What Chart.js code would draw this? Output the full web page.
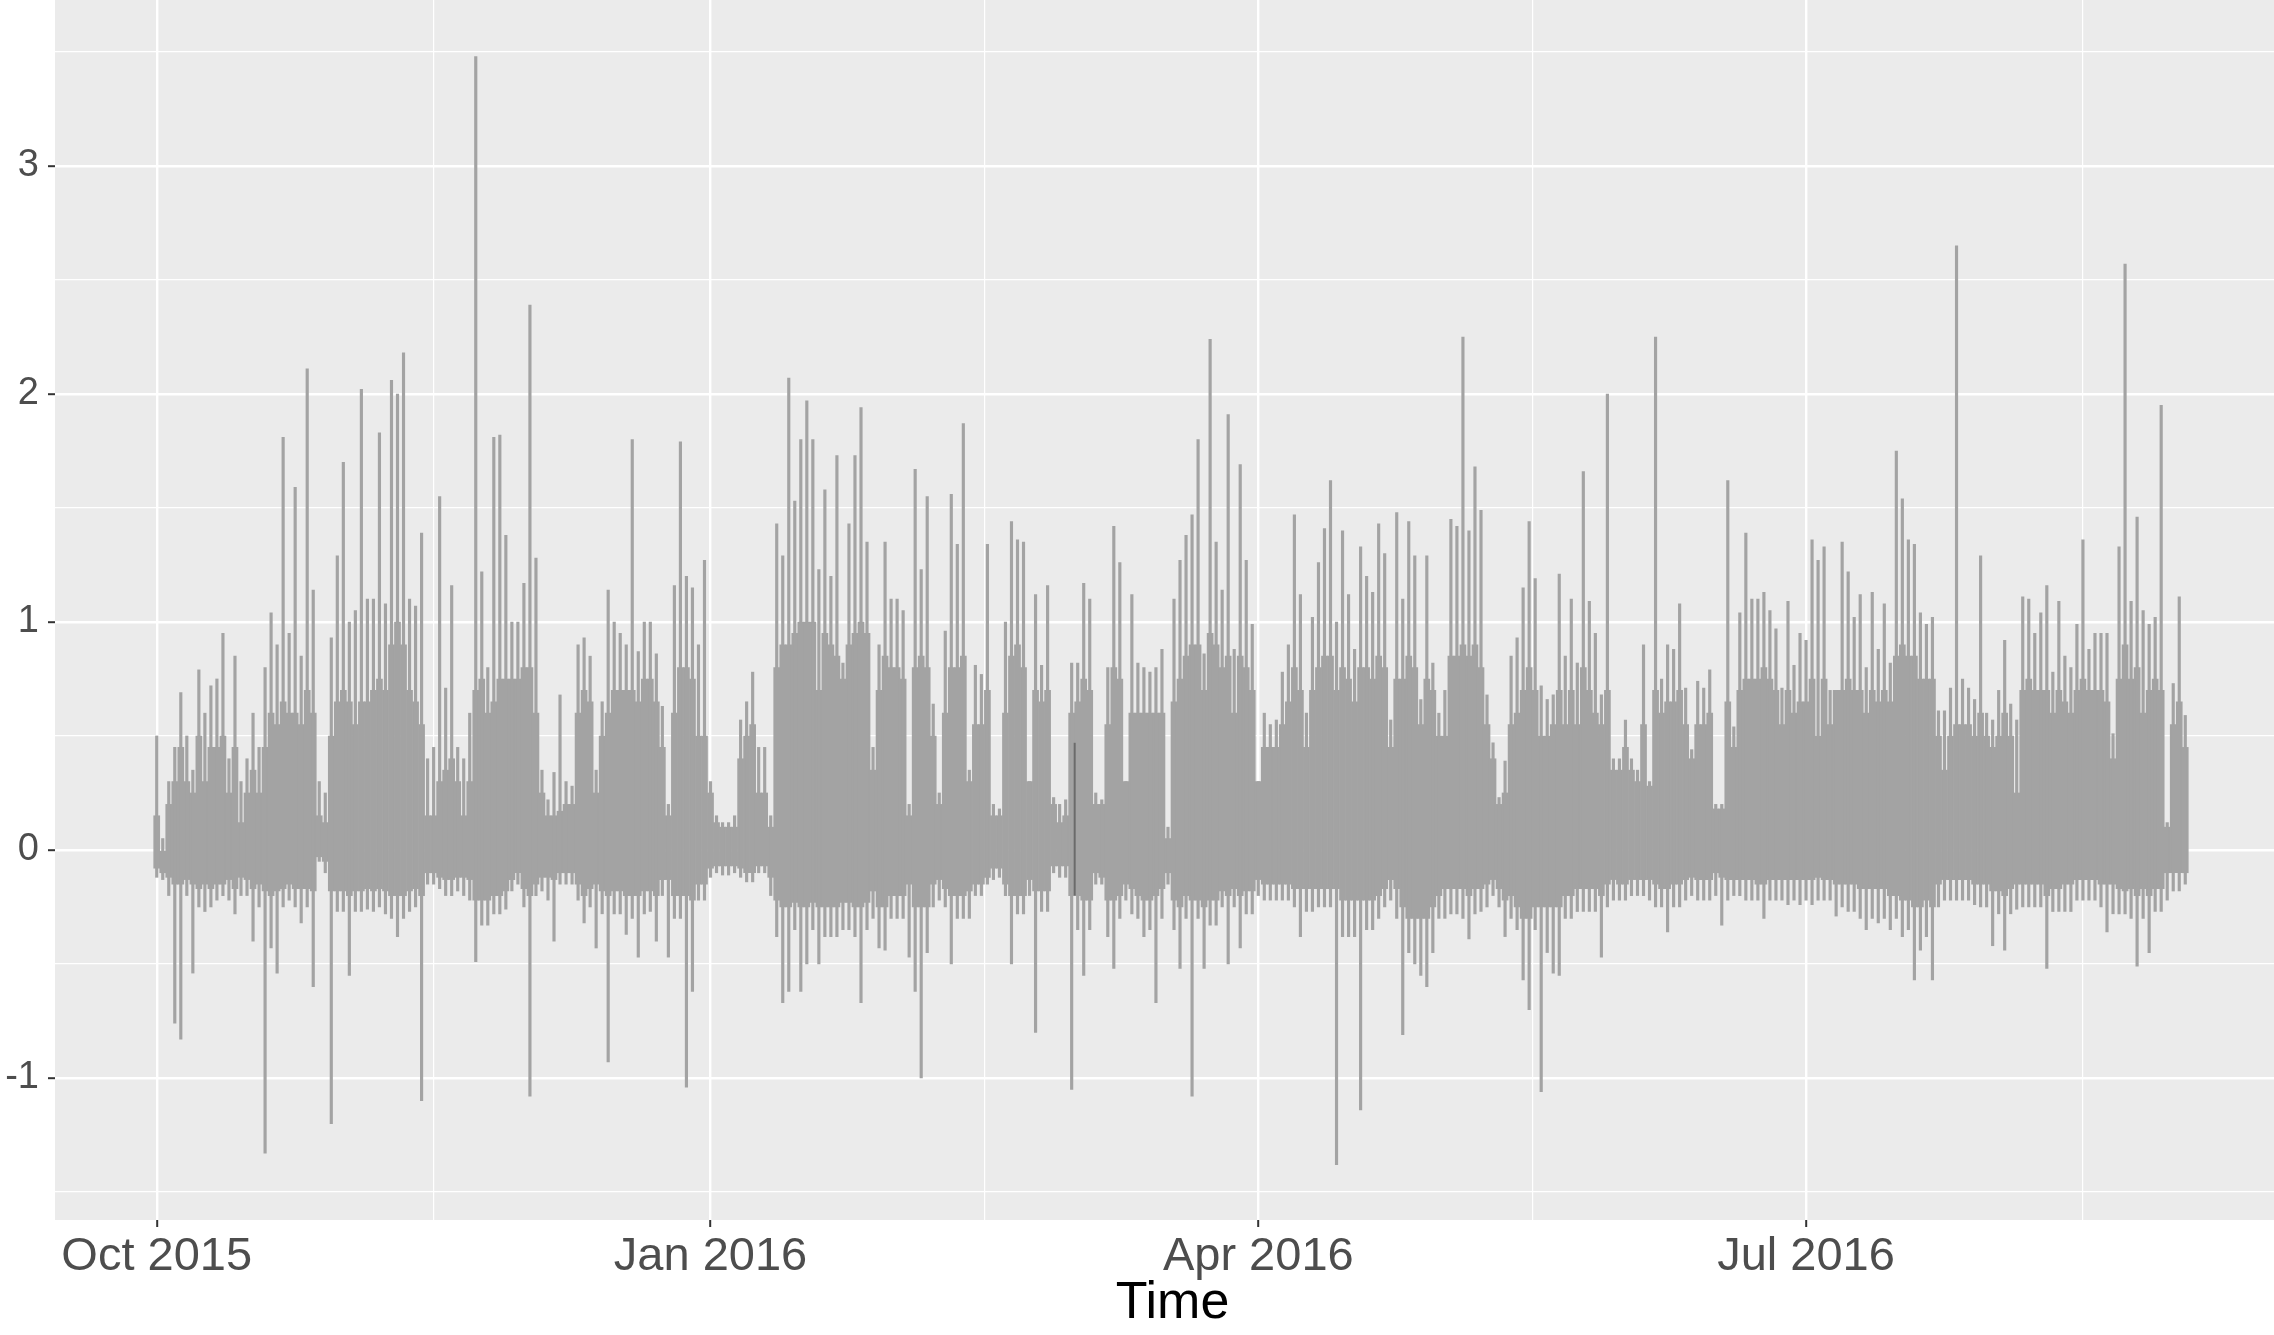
<!DOCTYPE html>
<html>
<head>
<meta charset="utf-8">
<script src="https://cdn.jsdelivr.net/npm/chart.js@4.4.1/dist/chart.umd.min.js"></script>
<style>
  html, body { margin: 0; padding: 0; background: #ffffff; overflow: hidden; }
  canvas { display: block; }
</style>
</head>
<body>
<canvas id="myChart" width="2292" height="1335"></canvas>
<script>
// one entry per day, day 0 = 1 Oct 2015
const dayMax = [
  .50,.05,.30,.45,.69,.50,.35,.79,.60,.72,
  .75,.95,.40,.85,.30,.40,.60,.45,.80,1.04,
  .90,1.81,.95,1.59,.85,2.11,1.14,.30,.25,.93,
  1.29,1.70,1.00,1.05,2.02,1.10,1.10,1.83,1.08,2.06,
  2.00,2.18,1.10,1.07,1.39,.40,.45,1.55,.71,1.16,
  .45,.40,.60,3.48,1.22,.80,1.81,1.82,1.38,1.00,
  1.00,1.17,2.39,1.28,.35,.22,.34,.68,.30,.28,
  .90,.93,.85,.35,.65,1.14,1.00,.95,.90,1.80,
  .87,1.00,1.00,.86,.63,.20,1.16,1.79,1.20,1.15,
  .90,1.27,.30,.15,.12,.12,.15,.57,.65,.78,
  .45,.45,.15,1.43,1.29,2.07,1.53,1.80,1.97,1.80,
  1.23,1.58,1.20,1.73,.82,1.43,1.73,1.94,1.35,.45,
  .90,1.35,1.10,1.10,1.05,.20,1.67,1.23,1.55,.64,
  .25,.96,1.56,1.34,1.87,.35,.81,.77,1.34,.20,
  .18,1.00,1.44,1.36,1.35,.30,1.12,.81,1.16,.23,
  .20,.22,.82,.82,1.17,1.10,.25,.22,.80,1.42,
  1.26,.30,1.12,.82,.80,.78,.80,.88,.10,1.10,
  1.27,1.38,1.47,1.80,.86,2.24,1.35,1.14,1.91,.88,
  1.69,1.27,.99,.30,.60,.55,.57,.78,.90,1.47,
  1.12,.60,1.02,1.26,1.41,1.62,1.00,1.40,1.12,.88,
  1.33,1.20,1.13,1.43,1.30,.57,1.48,1.10,1.44,1.29,
  .66,1.29,.82,.60,.70,1.45,1.42,2.25,1.40,1.68,
  1.49,.68,.47,.23,.39,.85,.93,1.15,1.44,1.19,
  .72,.66,.68,1.21,.85,1.10,.82,1.66,1.09,.95,
  .68,2.00,.40,.40,.57,.40,.35,.90,.30,2.25,
  .75,.90,.88,1.08,.71,.44,.74,.71,.79,.20,
  .20,1.62,.54,1.04,1.39,1.10,1.10,1.13,1.05,.97,
  .71,1.09,.81,.95,.92,1.36,1.27,1.33,.70,.70,
  1.35,1.22,1.02,1.12,.80,1.13,.88,1.08,.82,1.75,
  1.54,1.36,1.34,1.04,.99,1.02,.61,.61,.71,2.65,
  .75,.71,.66,1.29,.60,.57,.70,.92,.64,.57,
  1.11,1.10,.95,1.04,1.16,.78,1.09,.85,.80,.99,
  1.36,.88,.95,.95,.95,.51,1.33,2.57,1.09,1.46,
  1.05,.99,1.02,1.95,.12,.73,1.11,.59
];

// upper edge of the dense part of each day
const bandTop = [
  .15,.00,.20,.30,.45,.30,.25,.50,.30,.45,
  .45,.50,.25,.45,.12,.25,.35,.25,.45,.60,
  .55,.65,.60,.60,.55,.70,.60,.15,.12,.50,
  .65,.70,.65,.55,.65,.65,.70,.75,.70,.90,
  1.00,.90,.70,.65,.55,.15,.15,.30,.35,.40,
  .30,.15,.30,.70,.75,.60,.65,.75,.75,.75,
  .75,.80,.80,.60,.25,.15,.15,.17,.20,.20,
  .60,.70,.65,.25,.50,.60,.70,.70,.70,.70,
  .65,.75,.75,.65,.45,.15,.60,.80,.80,.75,
  .50,.50,.25,.12,.10,.10,.10,.40,.50,.55,
  .25,.25,.10,.80,.90,.90,.95,1.00,1.00,1.00,
  .70,.95,.90,.85,.75,.90,.95,1.00,.95,.35,
  .70,.85,.80,.80,.75,.15,.80,.85,.80,.50,
  .20,.60,.80,.80,.85,.30,.55,.55,.70,.15,
  .15,.60,.85,.90,.80,.30,.70,.65,.70,.20,
  .12,.15,.60,.65,.75,.70,.20,.20,.55,.80,
  .75,.30,.60,.60,.60,.60,.60,.60,.05,.65,
  .75,.85,.90,.90,.70,.95,.90,.80,.85,.60,
  .85,.80,.70,.30,.45,.45,.45,.55,.65,.80,
  .70,.45,.70,.80,.85,.85,.70,.80,.75,.65,
  .80,.80,.75,.85,.80,.45,.75,.75,.85,.80,
  .55,.75,.70,.50,.50,.85,.85,.90,.85,.90,
  .80,.55,.40,.20,.25,.55,.60,.70,.80,.70,
  .50,.50,.55,.70,.55,.70,.55,.80,.70,.60,
  .55,.70,.35,.35,.45,.35,.30,.55,.28,.70,
  .60,.65,.65,.70,.55,.40,.55,.55,.60,.18,
  .18,.65,.45,.70,.75,.75,.75,.80,.75,.70,
  .55,.70,.60,.65,.65,.75,.50,.75,.55,.70,
  .70,.75,.70,.70,.60,.70,.65,.70,.65,.85,
  .90,.85,.85,.75,.75,.75,.50,.35,.50,.55,
  .55,.55,.50,.60,.50,.45,.50,.60,.50,.25,
  .70,.75,.70,.70,.70,.60,.70,.65,.60,.70,
  .75,.70,.70,.70,.65,.40,.75,.90,.75,.80,
  .60,.70,.75,.70,.10,.55,.65,.45
];

// lower edge of the dense part of each day
const bandBottom = [
  -.08,-.10,-.12,-.15,-.15,-.13,-.15,-.17,-.15,-.17,
  -.15,-.15,-.13,-.17,-.12,-.13,-.17,-.15,-.18,-.20,
  -.18,-.17,-.15,-.17,-.17,-.17,-.18,-.03,-.05,-.18,
  -.18,-.18,-.20,-.18,-.18,-.17,-.18,-.17,-.18,-.20,
  -.20,-.20,-.18,-.17,-.20,-.10,-.10,-.12,-.13,-.13,
  -.12,-.12,-.13,-.22,-.22,-.22,-.20,-.20,-.18,-.13,
  -.10,-.17,-.20,-.15,-.12,-.12,-.13,-.10,-.10,-.10,
  -.15,-.20,-.17,-.15,-.18,-.20,-.18,-.18,-.20,-.20,
  -.20,-.18,-.18,-.20,-.13,-.13,-.20,-.20,-.20,-.22,
  -.15,-.15,-.08,-.07,-.07,-.07,-.07,-.08,-.10,-.10,
  -.07,-.07,-.12,-.22,-.25,-.25,-.23,-.25,-.25,-.23,
  -.25,-.25,-.25,-.25,-.23,-.23,-.25,-.25,-.23,-.18,
  -.25,-.25,-.20,-.20,-.20,-.15,-.25,-.25,-.25,-.15,
  -.13,-.17,-.20,-.20,-.20,-.18,-.15,-.15,-.12,-.08,
  -.08,-.15,-.20,-.20,-.20,-.13,-.18,-.18,-.18,-.07,
  -.07,-.07,-.20,-.20,-.22,-.22,-.10,-.12,-.22,-.22,
  -.20,-.15,-.17,-.20,-.22,-.22,-.20,-.17,-.10,-.22,
  -.25,-.20,-.22,-.22,-.25,-.22,-.22,-.18,-.20,-.17,
  -.20,-.18,-.18,-.13,-.15,-.15,-.15,-.15,-.15,-.17,
  -.17,-.17,-.17,-.17,-.17,-.17,-.17,-.22,-.22,-.22,
  -.22,-.22,-.22,-.20,-.17,-.13,-.17,-.25,-.30,-.30,
  -.30,-.30,-.25,-.20,-.17,-.17,-.17,-.17,-.20,-.17,
  -.17,-.15,-.13,-.17,-.22,-.20,-.25,-.30,-.30,-.25,
  -.25,-.25,-.25,-.25,-.20,-.20,-.17,-.17,-.17,-.17,
  -.20,-.15,-.13,-.15,-.15,-.13,-.13,-.13,-.13,-.15,
  -.17,-.17,-.15,-.15,-.13,-.12,-.13,-.13,-.13,-.10,
  -.12,-.13,-.13,-.13,-.13,-.13,-.15,-.15,-.13,-.13,
  -.13,-.13,-.13,-.13,-.13,-.13,-.12,-.13,-.13,-.15,
  -.15,-.15,-.15,-.17,-.17,-.17,-.17,-.17,-.20,-.20,
  -.22,-.22,-.25,-.25,-.22,-.25,-.15,-.13,-.13,-.13,
  -.13,-.13,-.15,-.15,-.15,-.18,-.18,-.20,-.17,-.15,
  -.15,-.15,-.15,-.15,-.20,-.17,-.17,-.15,-.15,-.13,
  -.13,-.13,-.13,-.15,-.15,-.15,-.17,-.18,-.17,-.20,
  -.17,-.20,-.17,-.17,-.10,-.10,-.10,-.10
];

const dayMin = [
  -.12,-.13,-.20,-.76,-.83,-.20,-.54,-.25,-.27,-.25,
  -.22,-.20,-.22,-.28,-.20,-.20,-.40,-.25,-1.33,-.43,
  -.54,-.25,-.22,-.25,-.32,-.25,-.60,-.05,-.10,-1.20,
  -.27,-.27,-.55,-.27,-.27,-.26,-.27,-.25,-.28,-.30,
  -.38,-.30,-.27,-.25,-1.10,-.15,-.15,-.17,-.20,-.20,
  -.18,-.20,-.22,-.49,-.33,-.33,-.28,-.28,-.26,-.18,
  -.15,-.25,-1.08,-.20,-.18,-.22,-.40,-.15,-.15,-.15,
  -.22,-.32,-.25,-.43,-.28,-.93,-.28,-.28,-.37,-.30,
  -.47,-.28,-.27,-.40,-.20,-.47,-.30,-.30,-1.04,-.62,
  -.22,-.22,-.12,-.10,-.11,-.11,-.10,-.12,-.14,-.14,
  -.10,-.10,-.20,-.38,-.67,-.62,-.35,-.62,-.50,-.35,
  -.50,-.38,-.38,-.38,-.35,-.35,-.38,-.67,-.35,-.30,
  -.43,-.44,-.30,-.30,-.30,-.47,-.62,-1.00,-.45,-.25,
  -.22,-.25,-.50,-.30,-.30,-.30,-.20,-.20,-.15,-.13,
  -.12,-.20,-.50,-.28,-.28,-.20,-.80,-.27,-.27,-.10,
  -.12,-.12,-1.05,-.35,-.55,-.35,-.15,-.15,-.38,-.52,
  -.30,-.22,-.28,-.30,-.38,-.35,-.67,-.30,-.15,-.35,
  -.52,-.30,-1.08,-.30,-.52,-.33,-.33,-.25,-.50,-.25,
  -.43,-.28,-.28,-.20,-.22,-.22,-.22,-.22,-.22,-.25,
  -.38,-.27,-.27,-.25,-.25,-.25,-1.38,-.38,-.38,-.38,
  -1.14,-.35,-.35,-.30,-.25,-.22,-.30,-.81,-.45,-.50,
  -.55,-.60,-.45,-.30,-.30,-.28,-.28,-.30,-.39,-.28,
  -.27,-.25,-.20,-.25,-.38,-.30,-.35,-.57,-.70,-.35,
  -1.06,-.45,-.54,-.55,-.30,-.30,-.27,-.27,-.27,-.27,
  -.47,-.25,-.22,-.22,-.22,-.20,-.20,-.20,-.22,-.25,
  -.25,-.36,-.25,-.25,-.22,-.20,-.22,-.22,-.22,-.20,
  -.33,-.22,-.20,-.20,-.22,-.22,-.22,-.30,-.22,-.22,
  -.22,-.24,-.22,-.24,-.22,-.24,-.22,-.22,-.22,-.29,
  -.25,-.27,-.27,-.30,-.35,-.30,-.32,-.30,-.35,-.30,
  -.38,-.35,-.57,-.44,-.38,-.57,-.25,-.22,-.22,-.22,
  -.22,-.22,-.24,-.25,-.25,-.42,-.28,-.44,-.28,-.26,
  -.25,-.25,-.25,-.25,-.52,-.27,-.27,-.27,-.27,-.22,
  -.22,-.22,-.22,-.25,-.36,-.28,-.28,-.28,-.30,-.51,
  -.30,-.45,-.27,-.27,-.22,-.18,-.18,-.15
];

// short darker stretch of the trace in early March
const darkDays = [152.5, 152.5];
const darkValues = [-0.2, 0.47];

const majorDays = [0, 92, 183, 274];
const majorLabels = ['Oct 2015', 'Jan 2016', 'Apr 2016', 'Jul 2016'];
const minorDays = [46, 137.5, 228.5, 320];
const yMajor = [-1, 0, 1, 2, 3];
const yMinor = [-1.5, -0.5, 0.5, 1.5, 2.5, 3.5];

Chart.defaults.font.family = '"Liberation Sans", Arial, sans-serif';

// grey panel behind the grid
const panelBg = {
  id: 'panelBg',
  beforeDraw(chart) {
    const a = chart.chartArea;
    const c = chart.ctx;
    c.save();
    c.fillStyle = '#EBEBEB';
    c.fillRect(a.left, a.top, a.right - a.left, a.bottom - a.top);
    c.restore();
  }
};

const lineGrey = '#A3A3A3';
const band = dayMax.map((v, i) => ({ x: i, y: [bandBottom[i], bandTop[i]] }));
const spikes = dayMax.map((v, i) => ({ x: i, y: [dayMin[i], v] }));
const dark = darkDays.map((d, i) => ({ x: d, y: darkValues[i] }));

// scale-level contexts carry no tick, so check for it first
const isMajorX = c => !!c.tick && majorDays.includes(c.tick.value);
const isMajorY = c => !!c.tick && yMajor.includes(c.tick.value);

const ctx = document.getElementById('myChart').getContext('2d');
const myChart = new Chart(ctx, {
  type: 'bar',
  data: {
    datasets: [
      {
        data: band,
        backgroundColor: lineGrey,
        borderWidth: 0,
        grouped: false,
        categoryPercentage: 1,
        barPercentage: 1,
        order: 2
      },
      {
        data: spikes,
        backgroundColor: lineGrey,
        borderWidth: 0,
        grouped: false,
        barThickness: 2.5,
        order: 1
      },
      {
        // lowest order is painted last, so this stays on top
        type: 'line',
        data: dark,
        borderColor: '#6B6B6B',
        borderWidth: 2,
        pointRadius: 0,
        order: 0
      }
    ]
  },
  options: {
    responsive: false,
    animation: false,
    devicePixelRatio: 1,
    layout: { padding: { left: 0, right: 2, top: 0, bottom: 0 } },
    plugins: {
      legend: { display: false },
      tooltip: { enabled: false }
    },
    scales: {
      x: {
        type: 'linear',
        bounds: 'data',
        offset: false,
        min: -16.9,
        max: 354.4,
        afterBuildTicks(scale) {
          scale.ticks = majorDays.concat(minorDays).sort((a, b) => a - b).map(v => ({ value: v }));
        },
        afterFit(scale) {
          scale.height = 115;
          scale.paddingLeft = 0;
          scale.paddingRight = 0;
        },
        border: { display: false },
        grid: {
          offset: false,
          color: '#FFFFFF',
          lineWidth: c => isMajorX(c) ? 2.4 : 1.2,
          tickColor: c => isMajorX(c) ? '#333333' : 'rgba(0,0,0,0)',
          tickLength: 7,
          tickWidth: 2
        },
        ticks: {
          autoSkip: false,
          maxRotation: 0,
          padding: 2,
          color: '#4D4D4D',
          font: { size: 47 },
          callback: v => {
            const k = majorDays.indexOf(v);
            return k >= 0 ? majorLabels[k] : '';
          }
        },
        title: {
          display: true,
          text: 'Time',
          color: '#000000',
          font: { size: 52 },
          padding: { top: 0, bottom: 0 }
        }
      },
      y: {
        type: 'linear',
        bounds: 'data',
        min: -1.623,
        max: 3.728,
        afterBuildTicks(scale) {
          scale.ticks = yMajor.concat(yMinor).sort((a, b) => a - b).map(v => ({ value: v }));
        },
        afterFit(scale) {
          scale.width = 55;
          scale.paddingTop = 0;
          scale.paddingBottom = 0;
        },
        border: { display: false },
        grid: {
          color: '#FFFFFF',
          lineWidth: c => isMajorY(c) ? 2.4 : 1.2,
          tickColor: c => isMajorY(c) ? '#333333' : 'rgba(0,0,0,0)',
          tickLength: 7,
          tickWidth: 2
        },
        ticks: {
          autoSkip: false,
          padding: 9,
          color: '#4D4D4D',
          font: { size: 38 },
          callback: v => yMajor.includes(v) ? String(v) : ''
        }
      }
    }
  },
  plugins: [panelBg]
});
</script>
</body>
</html>
